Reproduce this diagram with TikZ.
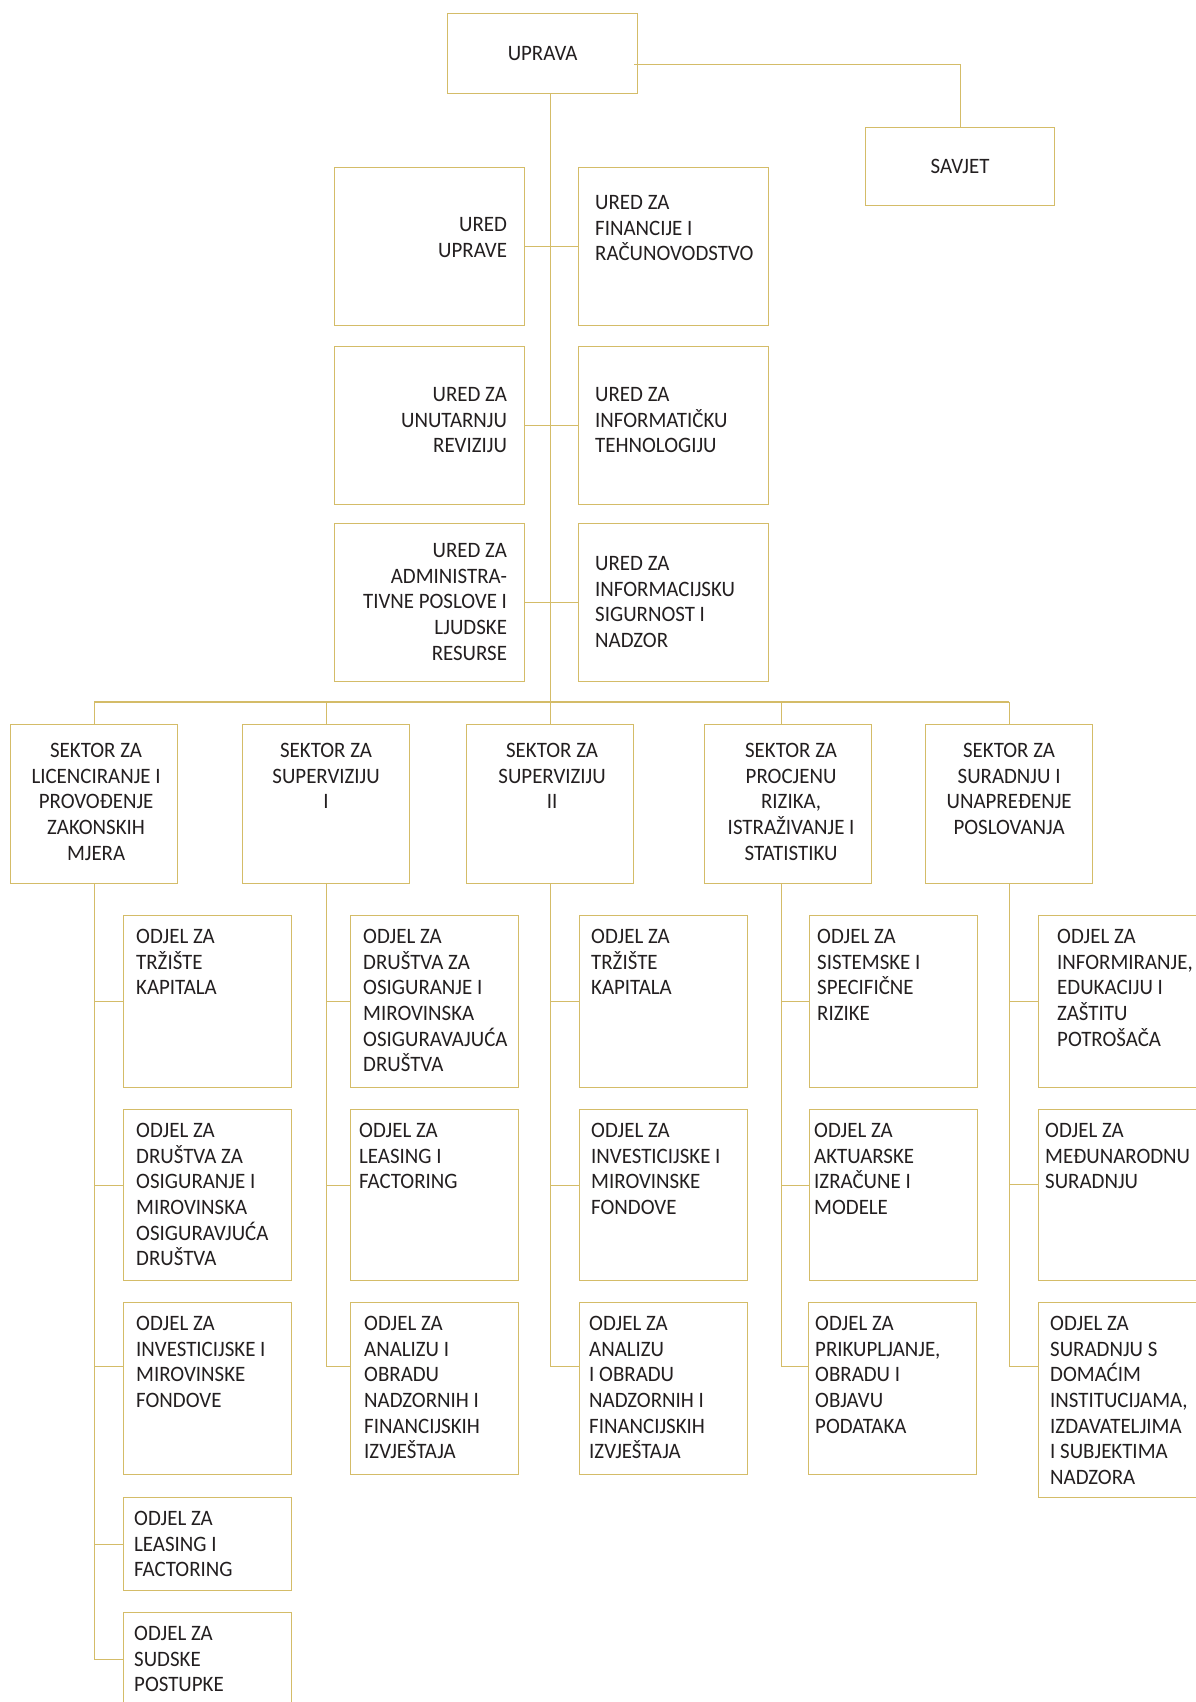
\documentclass[tikz,border=0pt]{standalone}
\usepackage{fontspec}
\setmainfont{Carlito}[FakeStretch=0.95]
\usepackage{tikz}
\definecolor{orggold}{RGB}{212,188,104}
\definecolor{orgink}{RGB}{35,31,32}

\begin{document}
\begin{tikzpicture}[x=1pt, y=-1pt]
    \tikzstyle{unit} = [rectangle, draw=orggold, line width=1.2pt, inner sep=0pt, anchor=north west, text=orgink, font=\fontsize{22}{25.7}\selectfont]
    \tikzstyle{ured} = [unit, minimum width=190pt, minimum height=158pt]
    \tikzstyle{sektor} = [unit, minimum width=167pt, minimum height=159pt]
    \tikzstyle{odjel} = [unit, minimum width=168pt]
    \tikzstyle{txtl} = [inner sep=0pt, anchor=north west, align=left, text=orgink, font=\fontsize{22}{25.7}\selectfont]
    \tikzstyle{txtr} = [txtl, anchor=north east, align=right]
    \tikzstyle{txtc} = [txtl, anchor=north, align=center]
    \tikzstyle{link} = [draw=orggold, line width=1.2pt]

    \useasboundingbox (0,0) rectangle (1196,1702);
    \fill[white] (0,0) rectangle (1196,1702);

    % Top management
    \node [unit, minimum width=190pt, minimum height=80pt] (uprava) at (447,13) {UPRAVA};
    \node [unit, minimum width=189pt, minimum height=78pt] (savjet) at (865,127) {SAVJET};

    % Offices
    \node [ured] (u1) at (334,167) {};
    \node [ured] (u2) at (334,346) {};
    \node [ured] (u3) at (334,523) {};
    \node [ured] (f1) at (578,167) {};
    \node [ured] (f2) at (578,346) {};
    \node [ured] (f3) at (578,523) {};
    \node [txtr] (u1t) at ([shift={(-18,50)}]u1.north east) {URED\\UPRAVE};
    \node [txtr] (u2t) at ([shift={(-18,41)}]u2.north east) {URED ZA\\UNUTARNJU\\REVIZIJU};
    \node [txtr] (u3t) at ([shift={(-18,20)}]u3.north east) {URED ZA\\ADMINISTRA-\\TIVNE POSLOVE I\\LJUDSKE\\RESURSE};
    \node [txtl] (f1t) at ([shift={(17,28)}]f1.north west) {URED ZA\\FINANCIJE I\\RAČUNOVODSTVO};
    \node [txtl] (f2t) at ([shift={(17,41)}]f2.north west) {URED ZA\\INFORMATIČKU\\TEHNOLOGIJU};
    \node [txtl] (f3t) at ([shift={(17,33)}]f3.north west) {URED ZA\\INFORMACIJSKU\\SIGURNOST I\\NADZOR};

    % Sectors
    \node [sektor] (s1) at (10,724) {};
    \node [sektor] (s2) at (242,724) {};
    \node [sektor] (s3) at (466,724) {};
    \node [sektor] (s4) at (704,724) {};
    \node [sektor] (s5) at (925,724) {};
    \node [txtc] (s1t) at ([shift={(2,19)}]s1.north) {SEKTOR ZA\\LICENCIRANJE I\\PROVOĐENJE\\ZAKONSKIH\\MJERA};
    \node [txtc] (s2t) at ([shift={(0,19)}]s2.north) {SEKTOR ZA\\SUPERVIZIJU\\I};
    \node [txtc] (s3t) at ([shift={(2,19)}]s3.north) {SEKTOR ZA\\SUPERVIZIJU\\II};
    \node [txtc] (s4t) at ([shift={(3,19)}]s4.north) {SEKTOR ZA\\PROCJENU\\RIZIKA,\\ISTRAŽIVANJE I\\STATISTIKU};
    \node [txtc] (s5t) at ([shift={(0,19)}]s5.north) {SEKTOR ZA\\SURADNJU I\\UNAPREĐENJE\\POSLOVANJA};
    \coordinate (s4top) at ([xshift=-7pt]s4.north);
    \coordinate (s4bot) at ([xshift=-7pt]s4.south);

    % Departments
    \node [odjel, minimum height=172pt] (o11) at (123,915) {};
    \node [odjel, minimum height=171pt] (o12) at (123,1109) {};
    \node [odjel, minimum height=172pt] (o13) at (123,1302) {};
    \node [odjel, minimum height=93pt] (o14) at (123,1497) {};
    \node [odjel, minimum height=93pt] (o15) at (123,1612) {};
    \node [odjel, minimum height=172pt] (o21) at (350,915) {};
    \node [odjel, minimum height=171pt] (o22) at (350,1109) {};
    \node [odjel, minimum height=172pt] (o23) at (350,1302) {};
    \node [odjel, minimum height=172pt] (o31) at (579,915) {};
    \node [odjel, minimum height=171pt] (o32) at (579,1109) {};
    \node [odjel, minimum height=172pt] (o33) at (579,1302) {};
    \node [odjel, minimum height=172pt] (o41) at (809,915) {};
    \node [odjel, minimum height=171pt] (o42) at (809,1109) {};
    \node [odjel, minimum height=172pt] (o43) at (808,1302) {};
    \node [odjel, minimum height=172pt] (o51) at (1038,915) {};
    \node [odjel, minimum height=171pt] (o52) at (1038,1109) {};
    \node [odjel, minimum height=195pt] (o53) at (1038,1302) {};

    \node [txtl] (o11t) at ([shift={(13,14)}]o11.north west) {ODJEL ZA\\TRŽIŠTE\\KAPITALA};
    \node [txtl] (o12t) at ([shift={(13,14)}]o12.north west) {ODJEL ZA\\DRUŠTVA ZA\\OSIGURANJE I\\MIROVINSKA\\OSIGURAVJUĆA\\DRUŠTVA};
    \node [txtl] (o13t) at ([shift={(13,14)}]o13.north west) {ODJEL ZA\\INVESTICIJSKE I\\MIROVINSKE\\FONDOVE};
    \node [txtl] (o14t) at ([shift={(11,14)}]o14.north west) {ODJEL ZA\\LEASING I\\FACTORING};
    \node [txtl] (o15t) at ([shift={(11,14)}]o15.north west) {ODJEL ZA\\SUDSKE\\POSTUPKE};
    \node [txtl] (o21t) at ([shift={(13,14)}]o21.north west) {ODJEL ZA\\DRUŠTVA ZA\\OSIGURANJE I\\MIROVINSKA\\OSIGURAVAJUĆA\\DRUŠTVA};
    \node [txtl] (o22t) at ([shift={(9,14)}]o22.north west) {ODJEL ZA\\LEASING I\\FACTORING};
    \node [txtl] (o23t) at ([shift={(14,14)}]o23.north west) {ODJEL ZA\\ANALIZU I\\OBRADU\\NADZORNIH I\\FINANCIJSKIH\\IZVJEŠTAJA};
    \node [txtl] (o31t) at ([shift={(12,14)}]o31.north west) {ODJEL ZA\\TRŽIŠTE\\KAPITALA};
    \node [txtl] (o32t) at ([shift={(12,14)}]o32.north west) {ODJEL ZA\\INVESTICIJSKE I\\MIROVINSKE\\FONDOVE};
    \node [txtl] (o33t) at ([shift={(10,14)}]o33.north west) {ODJEL ZA\\ANALIZU\\I OBRADU\\NADZORNIH I\\FINANCIJSKIH\\IZVJEŠTAJA};
    \node [txtl] (o41t) at ([shift={(8,14)}]o41.north west) {ODJEL ZA\\SISTEMSKE I\\SPECIFIČNE\\RIZIKE};
    \node [txtl] (o42t) at ([shift={(5,14)}]o42.north west) {ODJEL ZA\\AKTUARSKE\\IZRAČUNE I\\MODELE};
    \node [txtl] (o43t) at ([shift={(7,14)}]o43.north west) {ODJEL ZA\\PRIKUPLJANJE,\\OBRADU I\\OBJAVU\\PODATAKA};
    \node [txtl] (o51t) at ([shift={(19,14)}]o51.north west) {ODJEL ZA\\INFORMIRANJE,\\EDUKACIJU I\\ZAŠTITU\\POTROŠAČA};
    \node [txtl] (o52t) at ([shift={(7,14)}]o52.north west) {ODJEL ZA\\MEĐUNARODNU\\SURADNJU};
    \node [txtl] (o53t) at ([shift={(12,14)}]o53.north west) {ODJEL ZA\\SURADNJU S\\DOMAĆIM\\INSTITUCIJAMA,\\IZDAVATELJIMA\\I SUBJEKTIMA\\NADZORA};

    % Links from the top
    \draw [link] (s3.north |- uprava.south) -- (s3.north);
    \draw [link] ([xshift=-4pt, yshift=-11pt]uprava.east) -| (savjet.north);
    \draw [link] (u1.east) -- (f1.west);
    \draw [link] (u2.east) -- (f2.west);
    \draw [link] (u3.east) -- (f3.west);

    % Sector bus
    \coordinate (bus) at (551,702);
    \draw [link] (s1.north |- bus) -- (s5.north |- bus);
    \draw [link] (s1.north |- bus) -- (s1.north);
    \draw [link] (s2.north |- bus) -- (s2.north);
    \draw [link] (s4top |- bus) -- (s4top);
    \draw [link] (s5.north |- bus) -- (s5.north);

    % Department links
    \draw [link] (s1.south) |- (o11.west);
    \draw [link] (s1.south) |- ([yshift=9.5pt]o12.west);
    \draw [link] (s1.south) |- ([yshift=22pt]o13.west);
    \draw [link] (s1.south) |- (o14.west);
    \draw [link] (s1.south) |- (o15.west);
    \draw [link] (s2.south) |- (o21.west);
    \draw [link] (s2.south) |- ([yshift=9.5pt]o22.west);
    \draw [link] (s2.south) |- ([yshift=22pt]o23.west);
    \draw [link] (s3.south) |- (o31.west);
    \draw [link] (s3.south) |- ([yshift=9.5pt]o32.west);
    \draw [link] (s3.south) |- ([yshift=22pt]o33.west);
    \draw [link] (s4bot) |- (o41.west);
    \draw [link] (s4bot) |- ([yshift=9.5pt]o42.west);
    \draw [link] (s4bot) |- ([yshift=22pt]o43.west);
    \draw [link] (s5.south) |- (o51.west);
    \draw [link] (s5.south) |- ([yshift=10.5pt]o52.west);
    \draw [link] (s5.south) |- ([yshift=33.5pt]o53.west);
\end{tikzpicture}
\end{document}
